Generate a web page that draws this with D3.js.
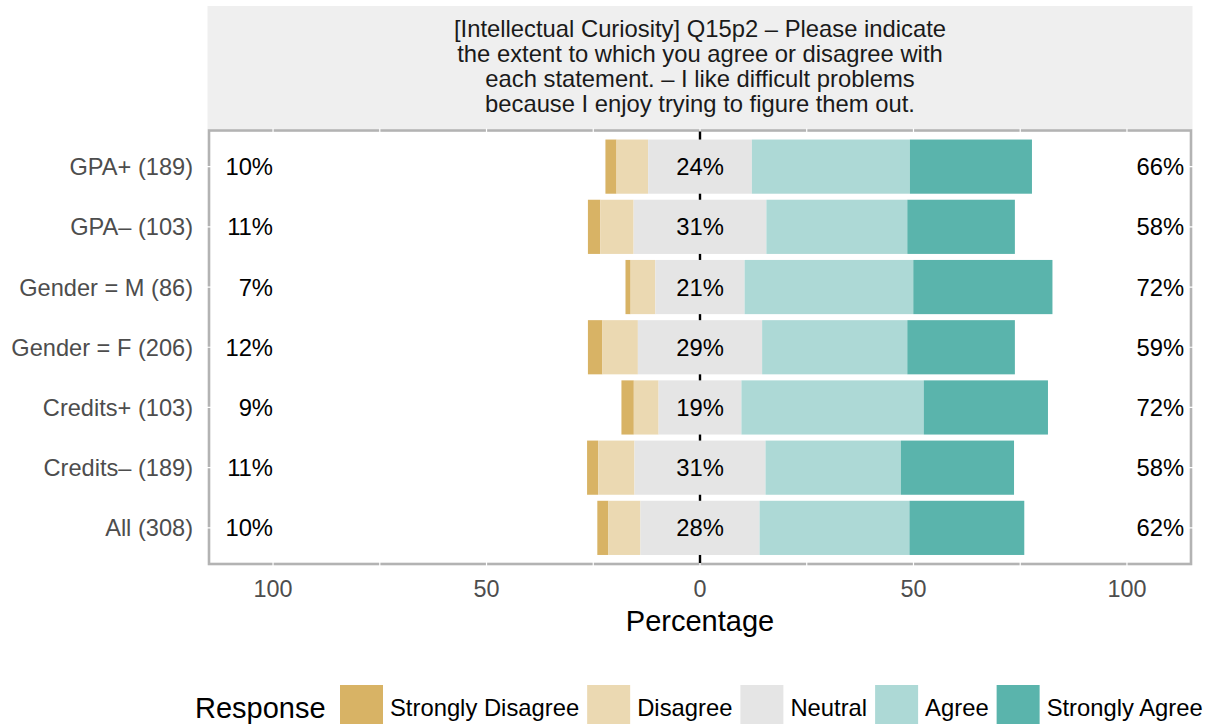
<!DOCTYPE html>
<html>
<head>
<meta charset="utf-8">
<script src="https://cdn.jsdelivr.net/npm/d3@7"></script>
<style>
  body { margin: 0; background: #fff; }
  svg { display: block; font-family: "Liberation Sans", Arial, sans-serif; }
</style>
</head>
<body>
<svg width="1218" height="724"></svg>
<script>
(function (d3) {

  // data (percent of respondents)
  const groups = ['GPA+ (189)', 'GPA\u2013 (103)', 'Gender = M (86)', 'Gender = F (206)',
                  'Credits+ (103)', 'Credits\u2013 (189)', 'All (308)'];
  const responses = ['Strongly Disagree', 'Disagree', 'Neutral', 'Agree', 'Strongly Agree'];
  const stronglyDisagree = [2.6, 2.9, 1.2, 3.4, 2.9, 2.6, 2.6];
  const disagree         = [7.4, 7.8, 5.8, 8.3, 5.8, 8.5, 7.5];
  const neutral          = [24.3, 31.1, 20.9, 29.1, 19.4, 30.7, 27.9];
  const agree            = [37.0, 33.0, 39.5, 34.0, 42.7, 31.7, 35.1];
  const stronglyAgree    = [28.6, 25.2, 32.6, 25.2, 29.1, 26.5, 26.9];
  const tickValues = [-100, -50, 0, 50, 100];
  const titleLines = [
    '[Intellectual Curiosity] Q15p2 \u2013 Please indicate',
    'the extent to which you agree or disagree with',
    'each statement. \u2013 I like difficult problems',
    'because I enjoy trying to figure them out.'
  ];

  const colors = ['#d8b365', '#ebd9b2', '#e5e5e5', '#add9d6', '#5ab4ac'];

  const svg = d3.select('svg');
  const panel = {left: 209, right: 1191, top: 130.5, bottom: 564};

  const x = d3.scaleLinear().domain([-115, 115]).range([panel.left, panel.right]);
  const y = d3.scalePoint().domain(groups).range([panel.top, panel.bottom]).padding(0.6);
  const barH = y.step() * 0.9;
  const colorScale = d3.scaleOrdinal().domain(responses).range(colors);

  // build stacked segments per row: neutral is centred on zero
  const rows = groups.map((g, i) => {
    const vals = [stronglyDisagree[i], disagree[i], neutral[i], agree[i], stronglyAgree[i]];
    let start = -(vals[0] + vals[1] + vals[2] / 2);
    const segs = vals.map((v, j) => {
      const s = {group: g, response: responses[j], x0: start, x1: start + v};
      start += v;
      return s;
    });
    return {
      group: g, segs,
      low: vals[0] + vals[1], mid: vals[2], high: vals[3] + vals[4]
    };
  });

  // strip
  svg.append('rect')
    .attr('x', panel.left - 1.5).attr('y', 6)
    .attr('width', panel.right - panel.left + 3).attr('height', panel.top - 7)
    .attr('fill', '#efefef');

  svg.append('g').selectAll('text')
    .data(titleLines)
    .join('text')
      .attr('x', (panel.left + panel.right) / 2)
      .attr('y', (d, i) => 37 + i * 25)
      .attr('text-anchor', 'middle')
      .attr('font-size', 23.8)
      .attr('fill', '#1a1a1a')
      .text(d => d);

  // panel
  svg.append('rect')
    .attr('x', panel.left).attr('y', panel.top)
    .attr('width', panel.right - panel.left).attr('height', panel.bottom - panel.top)
    .attr('fill', '#fff')
    .attr('stroke', '#b3b3b3')
    .attr('stroke-width', 2.6);

  // white grid lines (only visible where they cross the border)
  const grid = svg.append('g').attr('stroke', '#fff').attr('stroke-width', 1.2);
  grid.selectAll('line.v')
    .data(d3.range(-100, 101, 25))
    .join('line')
      .attr('class', 'v')
      .attr('x1', d => x(d)).attr('x2', d => x(d))
      .attr('y1', panel.top - 2).attr('y2', panel.bottom + 2);
  grid.selectAll('line.h')
    .data(groups)
    .join('line')
      .attr('class', 'h')
      .attr('x1', panel.left - 2).attr('x2', panel.right + 2)
      .attr('y1', d => y(d)).attr('y2', d => y(d));

  // zero line
  svg.append('line')
    .attr('x1', x(0)).attr('x2', x(0))
    .attr('y1', panel.top + 1).attr('y2', panel.bottom - 1)
    .attr('stroke', '#000')
    .attr('stroke-width', 2.4);

  // bars
  svg.append('g').selectAll('rect')
    .data(rows.flatMap(r => r.segs))
    .join('rect')
      .attr('x', d => x(d.x0))
      .attr('width', d => x(d.x1) - x(d.x0))
      .attr('y', d => y(d.group) - barH / 2)
      .attr('height', barH)
      .attr('fill', d => colorScale(d.response));

  // percentage labels
  const labels = svg.append('g')
    .attr('font-size', 23.8)
    .attr('fill', '#000');
  labels.selectAll('text.low')
    .data(rows)
    .join('text')
      .attr('class', 'low')
      .attr('x', x(-100))
      .attr('y', d => y(d.group))
      .attr('dy', '0.36em')
      .attr('text-anchor', 'end')
      .text(d => Math.round(d.low) + '%');
  labels.selectAll('text.mid')
    .data(rows)
    .join('text')
      .attr('class', 'mid')
      .attr('x', x(0))
      .attr('y', d => y(d.group))
      .attr('dy', '0.36em')
      .attr('text-anchor', 'middle')
      .text(d => Math.round(d.mid) + '%');
  labels.selectAll('text.high')
    .data(rows)
    .join('text')
      .attr('class', 'high')
      .attr('x', x(113.4))
      .attr('y', d => y(d.group))
      .attr('dy', '0.36em')
      .attr('text-anchor', 'end')
      .text(d => Math.round(d.high) + '%');

  // y axis labels
  svg.append('g').selectAll('text')
    .data(groups)
    .join('text')
      .attr('x', panel.left - 16)
      .attr('y', d => y(d))
      .attr('dy', '0.36em')
      .attr('text-anchor', 'end')
      .attr('font-size', 23.6)
      .attr('fill', '#4d4d4d')
      .text(d => d);

  // x axis labels
  svg.append('g').selectAll('text')
    .data(tickValues)
    .join('text')
      .attr('x', d => x(d))
      .attr('y', 597)
      .attr('text-anchor', 'middle')
      .attr('font-size', 23.4)
      .attr('fill', '#4d4d4d')
      .text(d => Math.abs(d));

  svg.append('text')
    .attr('x', x(0))
    .attr('y', 631)
    .attr('text-anchor', 'middle')
    .attr('font-size', 29)
    .attr('fill', '#000')
    .text('Percentage');

  // legend
  const legend = svg.append('g');
  legend.append('text')
    .attr('x', 195).attr('y', 718)
    .attr('font-size', 29)
    .attr('fill', '#000')
    .text('Response');

  let lx = 340;
  responses.forEach(r => {
    const item = legend.append('g').attr('transform', `translate(${lx},0)`);
    item.append('rect')
      .attr('x', 0).attr('y', 685)
      .attr('width', 43).attr('height', 43)
      .attr('fill', colorScale(r));
    const t = item.append('text')
      .attr('x', 50).attr('y', 716)
      .attr('font-size', 23.8)
      .attr('fill', '#000')
      .text(r);
    lx += 50 + t.node().getComputedTextLength() + 8;
  });

}(d3));
</script>
</body>
</html>
